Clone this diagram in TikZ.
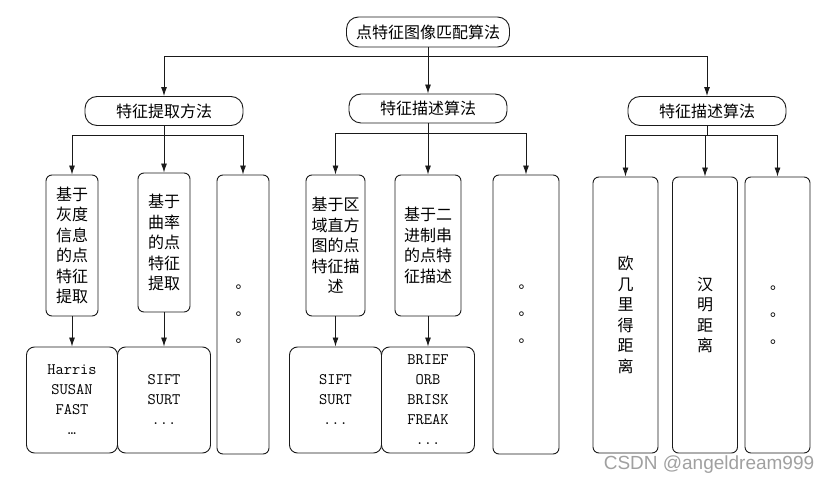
\documentclass[tikz,border=0pt]{standalone}
\usepackage{fontspec}
\setmainfont{Noto Sans CJK SC}
\newfontfamily\cjk{Noto Sans CJK SC}
\newfontfamily\latinmono{Latin Modern Mono}
\newfontfamily\marksans{Liberation Sans}
\usetikzlibrary{arrows.meta, positioning}
\usepackage{xcolor}
\definecolor{LineBlack}{HTML}{1A1A1A}
\definecolor{MarkGray}{HTML}{A0A0A0}
\tikzset{
    % Box styles - rounded corners
    rootbox/.style={
        rectangle,
        rounded corners=12pt,
        draw=LineBlack,
        line width=0.9pt,
        minimum width=163pt,
        minimum height=30pt,
        inner sep=0pt,
        align=center,
        font=\cjk\fontsize{16}{20}\selectfont
    },
    groupbox/.style={
        rootbox,
        minimum width=158pt,
        minimum height=29pt
    },
    methodbox/.style={
        rectangle,
        rounded corners=6pt,
        draw=LineBlack,
        line width=0.9pt,
        inner sep=0pt,
        align=center,
        font=\cjk\fontsize{16}{20.5}\selectfont
    },
    dotbox/.style={
        methodbox,
        font=\cjk\fontsize{15}{27}\selectfont
    },
    listbox/.style={
        rectangle,
        rounded corners=8pt,
        draw=LineBlack,
        line width=0.9pt,
        minimum height=106pt,
        inner sep=0pt,
        align=center,
        font=\latinmono\fontsize{16}{20}\selectfont
    },
    % Arrow styles - straight lines only
    arrow/.style={
        -{Latex[length=9pt,width=6pt]},
        line width=0.9pt,
        draw=LineBlack
    }
}
\begin{document}
\begin{tikzpicture}[x=1pt, y=-1pt]
    \useasboundingbox (0,0) rectangle (830,486);

    \node[rootbox] (root) at (428,32) {点特征图像匹配算法};

    \node[groupbox] (extract) at (164,111) {特征提取方法};
    \node[groupbox] (describe) at (428,108.5) {特征描述算法};
    \node[groupbox] (match) at (707,111) {特征描述算法};

    \node[methodbox, minimum width=52pt, minimum height=141pt] (e1) at (72,245.5) {基于\\灰度\\信息\\的点\\特征\\提取};
    \node[methodbox, minimum width=52pt, minimum height=139pt] (e2) at (164,242.5) {基于\\曲率\\的点\\特征\\提取};
    \node[dotbox, minimum width=52pt, minimum height=279pt] (e3) at (243,314.5) {。\\。\\。};

    \node[methodbox, minimum width=59pt, minimum height=141pt] (d1) at (335.5,245.5) {基于区\\域直方\\图的点\\特征描\\述};
    \node[methodbox, minimum width=66pt, minimum height=141pt] (d2) at (428,245.5) {基于二\\进制串\\的点特\\征描述};
    \node[dotbox, minimum width=66pt, minimum height=279pt] (d3) at (526,314.5) {。\\。\\。};

    \node[methodbox, minimum width=65pt, minimum height=276pt] (m1) at (625.5,315) {欧\\几\\里\\得\\距\\离};
    \node[methodbox, minimum width=65pt, minimum height=276pt] (m2) at (705,315) {汉\\明\\距\\离};
    \node[dotbox, minimum width=65pt, minimum height=276pt] (m3) at (777.5,315) {。\\。\\。};

    \node[listbox, minimum width=91pt] (e1list) at (72,400) {Harris\\SUSAN\\FAST\\…};
    \node[listbox, minimum width=93pt] (e2list) at (164,400) {SIFT\\SURT\\...};
    \node[listbox, minimum width=92pt] (d1list) at (335.5,400) {SIFT\\SURT\\...};
    \node[listbox, minimum width=93pt] (d2list) at (428,400) {BRIEF\\ORB\\BRISK\\FREAK\\...};

    \node[font=\marksans\fontsize{19}{21}\selectfont, text=MarkGray] (mark) at (709,465) {CSDN @angeldream999};

    \draw[arrow] (root.south) -- ++(0,9) -| (extract);
    \draw[arrow] (root) -- (describe);
    \draw[arrow] (root.south) -- ++(0,9) -| (match);

    \draw[arrow] (extract.south) -- ++(0,10) -| (e1);
    \draw[arrow] (extract) -- (e2);
    \draw[arrow] (extract.south) -- ++(0,10) -| (e3);

    \draw[arrow] (describe.south) -- ++(0,10) -| (d1);
    \draw[arrow] (describe) -- (d2);
    \draw[arrow] (describe.south) -- ++(0,10) -| (d3);

    \draw[arrow] (match.south) -- ++(0,10) -| (m1);
    \draw[arrow] (match.south) -- ++(0,10) -| (m2);
    \draw[arrow] (match.south) -- ++(0,10) -| (m3);

    \draw[arrow] (e1) -- (e1list);
    \draw[arrow] (e2) -- (e2list);
    \draw[arrow] (d1) -- (d1list);
    \draw[arrow] (d2) -- (d2list);
\end{tikzpicture}
\end{document}
